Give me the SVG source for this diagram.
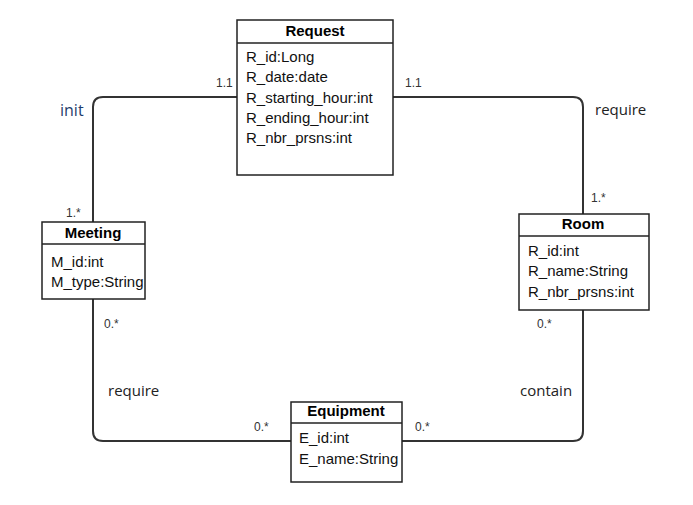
<svg xmlns="http://www.w3.org/2000/svg" width="693" height="505" viewBox="0 0 693 505">
<style>
.box{fill:#fff;stroke:#222;stroke-width:1.5}
.sep{stroke:#222;stroke-width:1.5}
.title{font-family:"Liberation Sans",Arial,sans-serif;font-size:15px;font-weight:bold;fill:#000;text-anchor:middle}
.attr{font-family:"Liberation Sans",Arial,sans-serif;font-size:15px;fill:#111}
.conn{fill:none;stroke:#333;stroke-width:2}
.mult{font-family:"Liberation Sans",Arial,sans-serif;font-size:12px;fill:#333}
.lbl{font-family:"Open Sans","Liberation Sans",sans-serif;font-size:15px;fill:#222}
</style>
<rect width="693" height="505" fill="#fff"/>
<g id="connectors">
<path class="conn" d="M237,97 H103 Q93,97 93,107 V222"/>
<path class="conn" d="M393,97 H573 Q583,97 583,107 V214"/>
<path class="conn" d="M93,299 V431 Q93,441 103,441 H291"/>
<path class="conn" d="M583,310 V431 Q583,441 573,441 H402"/>
<text class="mult" x="216" y="87">1.1</text>
<text class="mult" x="405" y="87">1.1</text>
<text class="lbl" x="60" y="116" style="fill:#1f3c6b;font-size:16px">init</text>
<text class="lbl" x="595" y="115">require</text>
<text class="mult" x="66" y="217">1.*</text>
<text class="mult" x="591" y="202">1.*</text>
<text class="mult" x="104" y="328">0.*</text>
<text class="mult" x="537" y="328">0.*</text>
<text class="lbl" x="108" y="396">require</text>
<text class="lbl" x="520" y="396">contain</text>
<text class="mult" x="254" y="431">0.*</text>
<text class="mult" x="415" y="431">0.*</text>
</g>
<g id="request">
<rect class="box" x="237" y="20" width="156" height="155"/>
<line class="sep" x1="237" y1="43" x2="393" y2="43"/>
<text class="title" x="315" y="36">Request</text>
<text class="attr" x="246" y="62">R_id:Long</text>
<text class="attr" x="246" y="82">R_date:date</text>
<text class="attr" x="246" y="103">R_starting_hour:int</text>
<text class="attr" x="246" y="123">R_ending_hour:int</text>
<text class="attr" x="246" y="143">R_nbr_prsns:int</text>
</g>
<g id="meeting">
<rect class="box" x="42" y="222" width="103" height="77"/>
<line class="sep" x1="42" y1="244" x2="145" y2="244"/>
<text class="title" x="93" y="238">Meeting</text>
<text class="attr" x="51" y="267">M_id:int</text>
<text class="attr" x="51" y="287">M_type:String</text>
</g>
<g id="room">
<rect class="box" x="519" y="214" width="130" height="96"/>
<line class="sep" x1="519" y1="236" x2="649" y2="236"/>
<text class="title" x="583" y="229">Room</text>
<text class="attr" x="528" y="256">R_id:int</text>
<text class="attr" x="528" y="276">R_name:String</text>
<text class="attr" x="528" y="297">R_nbr_prsns:int</text>
</g>
<g id="equipment">
<rect class="box" x="291" y="402" width="111" height="80"/>
<line class="sep" x1="291" y1="423" x2="402" y2="423"/>
<text class="title" x="346" y="416">Equipment</text>
<text class="attr" x="299" y="443">E_id:int</text>
<text class="attr" x="299" y="464">E_name:String</text>
</g>
</svg>
